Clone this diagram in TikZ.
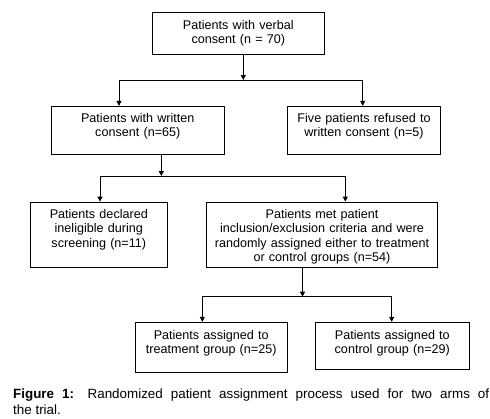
\documentclass[tikz,border=0pt]{standalone}
\usepackage{fontspec}
\setmainfont{Liberation Sans}
\usetikzlibrary{arrows.meta}
\tikzset{
  box/.style={draw=black, line width=0.9pt, inner sep=0pt, fill=white},
  txt/.style={anchor=north, inner sep=0pt, align=center, font=\fontsize{12.6}{14.3}\selectfont},
  conn/.style={draw=black, line width=0.9pt},
  arr/.style={conn, -{Triangle[length=5pt,width=5pt]}},
}
\begin{document}
\begin{tikzpicture}[x=1pt,y=-1pt]
\fill[white] (0,0) rectangle (490,418);
\useasboundingbox (0,0) rectangle (490,418);

% boxes
\node[box, minimum width=172pt, minimum height=42pt] (b1) at (238.3,33.3) {};
\node[box, minimum width=173pt, minimum height=48pt] (b2) at (137.8,130.3) {};
\node[box, minimum width=153.4pt, minimum height=48pt] (b3) at (364,130.3) {};
\node[box, minimum width=137pt, minimum height=65.3pt] (b4) at (98.8,234.7) {};
\node[box, minimum width=230.6pt, minimum height=65.3pt] (b5) at (322,234.7) {};
\node[box, minimum width=152.3pt, minimum height=50pt] (b6) at (211.2,347.3) {};
\node[box, minimum width=154.7pt, minimum height=47pt] (b7) at (392.3,345.8) {};

% texts
\node[txt, text width=168pt] (t1) at (238.3,20) {Patients with verbal\\consent (n = 70)};
\node[txt, text width=168pt] (t2) at (137.8,113) {Patients with written\\consent (n=65)};
\node[txt, text width=150pt] (t3) at (364,113) {Five patients refused to\\written consent (n=5)};
\node[txt, text width=134pt] (t4) at (98.8,209.3) {Patients declared\\ineligible during\\screening (n=11)};
\node[txt, text width=228pt] (t5) at (322,209.3) {Patients met patient\\inclusion/exclusion criteria and were\\randomly assigned either to treatment\\or control groups (n=54)};
\node[txt, text width=150pt] (t6) at (211.2,330) {Patients assigned to\\treatment group (n=25)};
\node[txt, text width=150pt] (t7) at (392.3,330) {Patients assigned to\\control group (n=29)};

% junction coordinates
\coordinate (j1) at (243.3,80);
\coordinate (j1l) at (119,80);
\coordinate (j1r) at (362.7,80);
\coordinate (j2) at (161.3,176);
\coordinate (j2l) at (100,176);
\coordinate (j2r) at (345.3,176);
\coordinate (j3) at (302.5,296.7);
\coordinate (j3l) at (202.3,296.7);
\coordinate (j3r) at (391.7,296.7);

% connectors
\draw[arr] (b1.south -| j1) -- (j1);
\draw[conn] (j1l) -- (j1r);
\draw[arr] (j1l) -- (b2.north -| j1l);
\draw[arr] (j1r) -- (b3.north -| j1r);

\draw[arr] (b2.south -| j2) -- (j2);
\draw[conn] (j2l) -- (j2r);
\draw[arr] (j2l) -- (b4.north -| j2l);
\draw[arr] (j2r) -- (b5.north -| j2r);

\draw[arr] (b5.south -| j3) -- (j3);
\draw[conn] (j3l) -- (j3r);
\draw[arr] (j3l) -- (b6.north -| j3l);
\draw[arr] (j3r) -- (b7.north -| j3r);

% caption
\node[anchor=north west, inner sep=0pt, text width=476pt, align=justify,
  font=\fontsize{13.4}{15.6}\selectfont] (cap) at (13,389)
  {\textbf{Figure 1:} Randomized patient assignment process used for two arms of\linebreak the trial.};
\end{tikzpicture}
\end{document}
